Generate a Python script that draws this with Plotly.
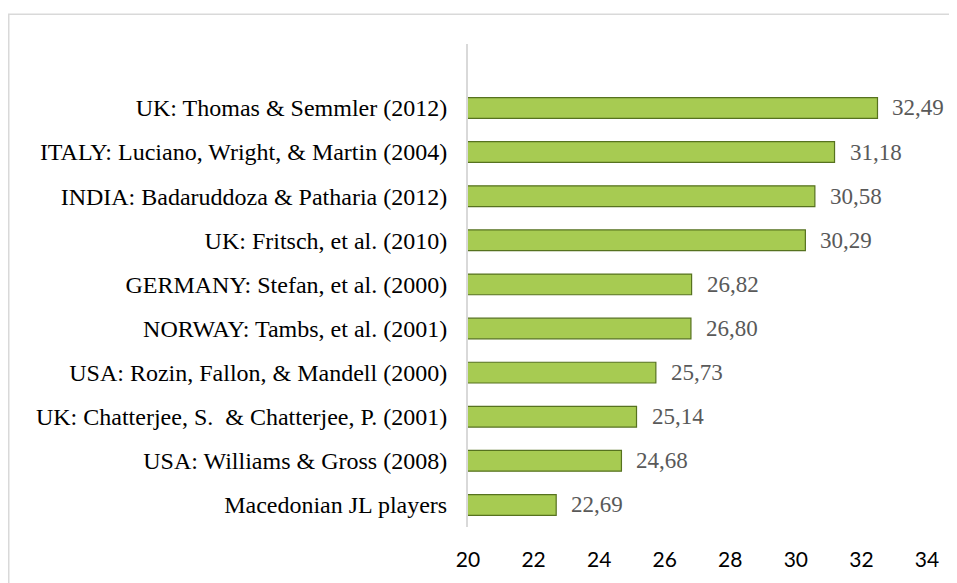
import plotly.graph_objects as go

# bottom-to-top order
studies = [
    "Macedonian JL players",
    "USA: Williams & Gross (2008)",
    "UK: Chatterjee, S.  & Chatterjee, P. (2001)",
    "USA: Rozin, Fallon, & Mandell (2000)",
    "NORWAY: Tambs, et al. (2001)",
    "GERMANY: Stefan, et al. (2000)",
    "UK: Fritsch, et al. (2010)",
    "INDIA: Badaruddoza & Patharia (2012)",
    "ITALY: Luciano, Wright, & Martin (2004)",
    "UK: Thomas & Semmler (2012)",
]
values = [22.69, 24.68, 25.14, 25.73, 26.80, 26.82, 30.29, 30.58, 31.18, 32.49]
x_ticks = [20, 22, 24, 26, 28, 30, 32, 34]

labels = [f"{v:.2f}".replace(".", ",") for v in values]

W, H = 949, 575
L, R, T, B = 460, 30, 36, 53
pw, ph = W - L - R, H - T - B

fig = go.Figure()
fig.add_trace(go.Bar(
    x=values, y=studies, orientation="h", base=0,
    marker=dict(color="#a7cb52", line=dict(color="#56721f", width=1.2)),
    hoverinfo="skip",
))

for v, s, t in zip(values, studies, labels):
    fig.add_annotation(x=v, y=s, text=t, showarrow=False, xanchor="left",
                       xshift=13, font=dict(family="Liberation Serif", size=23, color="#595959"))

fig.update_layout(
    width=W, height=H,
    margin=dict(l=L, r=R, t=T, b=B),
    paper_bgcolor="white", plot_bgcolor="white",
    showlegend=False,
    bargap=0.53,
    xaxis=dict(range=[20, 34], tickvals=x_ticks, showgrid=False, zeroline=False,
               showline=False, ticks="", ticklabelstandoff=18,
               tickfont=dict(family="Lato", size=21, color="black")),
    yaxis=dict(type="category", range=[-0.5, 10.45], showgrid=False, zeroline=False,
               showline=True, linecolor="#d9d9d9", linewidth=2, ticks="",
               ticklabelstandoff=14,
               tickfont=dict(family="Liberation Serif", size=24, color="black")),
    shapes=[dict(type="rect", xref="paper", yref="paper",
                 x0=(0.75 - L) / pw, x1=(W + 20 - L) / pw,
                 y0=-(B + 20) / ph, y1=(ph + T - 6) / ph,
                 line=dict(color="#d9d9d9", width=1.5), fillcolor="rgba(0,0,0,0)",
                 layer="below")],
)

fig.write_html("out.html")
